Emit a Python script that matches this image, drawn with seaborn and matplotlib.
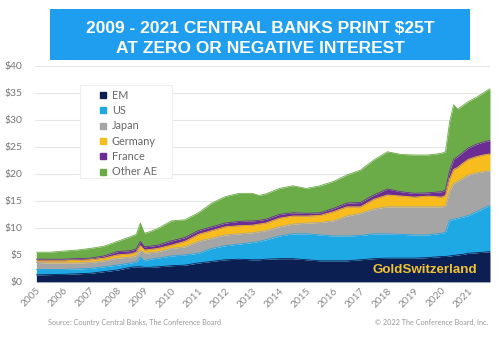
import numpy as np
import pandas as pd
import matplotlib
matplotlib.use("Agg")
import matplotlib.pyplot as plt
from matplotlib.patches import Rectangle
from matplotlib.lines import Line2D
import seaborn as sns

# ---- data (trillions USD) ----
years = [2005.0, 2005.5, 2006.0, 2006.5, 2007.0, 2007.5, 2008.0, 2008.5, 2008.7, 2008.85,
         2009.0, 2009.2, 2009.5, 2010.0, 2010.5, 2011.0, 2011.5, 2012.0, 2012.5, 2013.0,
         2013.25, 2013.5, 2014.0, 2014.5, 2015.0, 2015.5, 2016.0, 2016.5, 2017.0, 2017.5,
         2018.0, 2018.5, 2019.0, 2019.5, 2020.0, 2020.15, 2020.3, 2020.45, 2020.6, 2020.8,
         2021.0, 2021.3, 2021.55, 2021.8]
em = [1.3, 1.35, 1.4, 1.5, 1.6, 1.9, 2.2, 2.7, 2.8, 2.8,
      2.7, 2.7, 2.8, 3.0, 3.1, 3.5, 3.8, 4.1, 4.2, 4.1,
      4.1, 4.2, 4.3, 4.3, 4.1, 3.9, 3.9, 3.9, 4.1, 4.3,
      4.4, 4.4, 4.4, 4.5, 4.7, 4.7, 4.8, 4.9, 5.0, 5.1,
      5.3, 5.4, 5.5, 5.6]
us = [1.0, 0.95, 0.9, 0.9, 0.9, 0.9, 0.9, 0.8, 0.9, 1.8,
      1.2, 1.5, 1.6, 1.8, 1.9, 1.8, 2.4, 2.6, 2.8, 3.2,
      3.4, 3.6, 4.2, 4.6, 4.8, 4.8, 4.6, 4.6, 4.5, 4.6,
      4.5, 4.4, 4.3, 4.2, 4.3, 4.5, 6.6, 6.7, 6.8, 6.9,
      7.0, 7.6, 8.1, 8.6]
japan = [1.3, 1.2, 1.2, 1.1, 1.1, 1.1, 1.3, 1.1, 1.2, 1.3,
         1.4, 1.2, 1.2, 1.4, 1.5, 2.2, 1.9, 2.0, 1.9, 1.8,
         1.8, 1.7, 1.7, 1.8, 2.0, 2.3, 2.8, 3.7, 4.1, 4.6,
         5.0, 5.1, 5.2, 5.2, 4.9, 4.8, 5.4, 6.6, 6.8, 7.2,
         7.5, 7.2, 6.8, 6.4]
germany = [0.3, 0.4, 0.4, 0.5, 0.5, 0.5, 0.6, 0.6, 0.6, 0.8,
           0.6, 0.6, 0.6, 0.6, 1.0, 1.3, 1.4, 1.5, 1.5, 1.4,
           1.4, 1.4, 1.6, 1.5, 1.3, 1.3, 1.7, 1.7, 1.2, 1.8,
           2.2, 2.0, 1.8, 2.0, 1.8, 2.0, 2.2, 2.6, 2.6, 2.8,
           2.9, 3.0, 3.1, 3.1]
france = [0.3, 0.3, 0.3, 0.3, 0.3, 0.4, 0.6, 0.6, 0.6, 0.8,
          0.6, 0.6, 0.6, 0.8, 0.7, 0.7, 0.7, 0.7, 0.8, 0.8,
          0.7, 0.7, 0.7, 0.6, 0.5, 0.5, 0.6, 0.7, 0.8, 0.8,
          1.1, 0.8, 0.7, 0.6, 1.0, 1.0, 1.5, 1.9, 2.0, 2.0,
          2.1, 2.3, 2.4, 2.5]
other_ae = [1.3, 1.3, 1.5, 1.6, 1.8, 1.8, 1.9, 2.6, 2.7, 3.4,
            2.5, 2.7, 3.1, 3.7, 3.3, 3.3, 4.4, 4.9, 5.2, 5.1,
            4.6, 4.7, 4.8, 5.0, 4.6, 5.0, 5.0, 5.2, 6.0, 6.5,
            6.9, 6.9, 7.1, 7.0, 7.1, 7.1, 9.0, 10.1, 8.8, 8.7,
            8.6, 8.7, 9.1, 9.6]

series_names = ["EM", "US", "Japan", "Germany", "France", "Other AE"]
colors = ["#0b1f52", "#1ea8e4", "#a5a5a5", "#f8bd1c", "#6b2d94", "#6cac48"]
ytick_vals = [0, 5, 10, 15, 20, 25, 30, 35, 40]
ytick_labels = ["$0", "$5", "$10", "$15", "$20", "$25", "$30", "$35", "$40"]
xtick_years = list(range(2005, 2022))

title_text = "2009 - 2021 CENTRAL BANKS PRINT $25T\nAT ZERO OR NEGATIVE INTEREST"
source_text = "Source: Country Central Banks, The Conference Board"
copy_text = "\u00a9 2022 The Conference Board, Inc."
brand_text = "GoldSwitzerland"

df = pd.DataFrame({"year": years, "EM": em, "US": us, "Japan": japan,
                   "Germany": germany, "France": france, "Other AE": other_ae})

sns.set_theme(style="white")
plt.rcParams["font.family"] = ["Lato", "DejaVu Sans"]

fig = plt.figure(figsize=(5.0, 3.38), dpi=100)
ax = fig.add_axes([0.07, 0.166, 0.91, 0.639])

# stacked areas
cum = np.zeros(len(df))
for name, col in zip(series_names, colors):
    top = cum + df[name].to_numpy()
    ax.fill_between(df["year"], cum, top, color=col, linewidth=0, zorder=2)
    cum = top
# thin edge lines via seaborn on the cumulative tops
cum = np.zeros(len(df))
for name, col in zip(series_names, colors):
    cum = cum + df[name].to_numpy()
    sns.lineplot(x=df["year"], y=cum, color=col, linewidth=0.6, ax=ax, zorder=3,
                 legend=False)

ax.set_xlim(2004.95, 2021.8)
ax.set_ylim(0, 40)
ax.set_yticks(ytick_vals)
ax.set_yticklabels(ytick_labels)
ax.set_xticks(xtick_years)
ax.set_xticklabels([str(y) for y in xtick_years], rotation=45, ha="right",
                   rotation_mode="anchor")
ax.tick_params(axis="y", labelsize=7.5, colors="#777777", length=0, pad=9)
ax.tick_params(axis="x", labelsize=7.3, colors="#888888", length=0, pad=3)
ax.set_xlabel("")
ax.set_ylabel("")
ax.grid(axis="y", color="#e6e6e6", linewidth=0.8, zorder=0)
ax.set_axisbelow(True)
for s in ax.spines.values():
    s.set_visible(False)

# legend box (drawn separately) + frameless legend
ax.add_patch(Rectangle((0.099, 0.481), 0.202, 0.431, transform=ax.transAxes,
                       facecolor="white", edgecolor="#eeeeee", linewidth=0.8,
                       zorder=4))
handles = [Line2D([0], [0], marker="s", linestyle="", markersize=5,
                  markerfacecolor=c, markeredgecolor=c) for c in colors]
leg = ax.legend(handles, series_names, loc="upper left",
                bbox_to_anchor=(0.138, 0.89), frameon=False, fontsize=7.8,
                handletextpad=0.3, labelspacing=0.4, borderpad=0,
                handlelength=1.0, borderaxespad=0)
leg.set_zorder(5)
for t in leg.get_texts():
    t.set_color("#666666")

# brand text
ax.text(0.972, 0.055, brand_text, transform=ax.transAxes, ha="right", va="center",
        fontsize=9.6, fontweight="bold", color="#f2c232",
        family=["Liberation Sans", "DejaVu Sans"], zorder=5)

# title banner
fig.patches.append(Rectangle((0.1, 0.822), 0.84, 0.151, transform=fig.transFigure,
                             facecolor="#1f9ef0", edgecolor="none", zorder=0))
fig.text(0.52, 0.886, title_text, ha="center", va="center", color="white",
         fontsize=12.5, fontweight="bold", linespacing=1.42,
         family=["Liberation Sans", "DejaVu Sans"])

# footer
fig.text(0.096, 0.045, source_text, ha="left", va="center", fontsize=5.2, color="#999999")
fig.text(0.976, 0.045, copy_text, ha="right", va="center", fontsize=5.2, color="#999999")

fig.savefig("out.png", dpi=100)
